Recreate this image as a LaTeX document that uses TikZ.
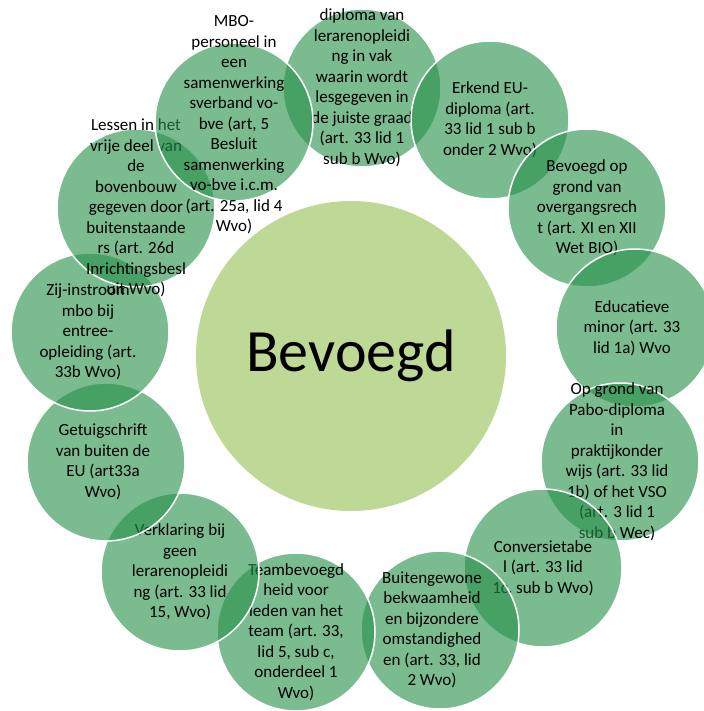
\documentclass[tikz,border=0pt]{standalone}
\usepackage{fontspec}
\setmainfont{Carlito}
\usepackage{tikz}
\definecolor{hubgreen}{RGB}{190,216,150}
\definecolor{spokegreen}{RGB}{40,145,75}
\tikzset{
  hub/.style={circle, fill=hubgreen, minimum size=310pt, inner sep=0pt, font=\fontsize{60}{72}\selectfont},
  spoke/.style={circle, fill=spokegreen, fill opacity=0.62, draw=white, line width=1.5pt, minimum size=158pt, inner sep=0pt},
  spoketext/.style={align=center, text=black, text opacity=1, inner sep=0pt, font=\fontsize{17}{20.5}\selectfont}
}
\begin{document}
\begin{tikzpicture}[x=1pt,y=-1pt]
\useasboundingbox (0,0) rectangle (703,711);
\node[hub] (hub) at (351,356) {Bevoegd};
\node[spoke] (c2) at (362,88) {};
\node[spoketext] (t2) at (c2) {diploma van\\lerarenopleidi\\ng in vak\\waarin wordt\\lesgegeven in\\de juiste graad\\(art. 33 lid 1\\sub b Wvo)};
\node[spoke] (c3) at (490,120) {};
\node[spoketext] (t3) at (c3) {Erkend EU-\\diploma (art.\\33 lid 1 sub b\\onder 2 Wvo)};
\node[spoke] (c4) at (587,208) {};
\node[spoketext] (t4) at (c4) {Bevoegd op\\grond van\\overgangsrech\\t (art. XI en XII\\Wet BIO)};
\node[spoke] (c5) at (635,328) {};
\node[spoketext] (t5) at ([xshift=-3pt]c5) {Educatieve\\minor (art. 33\\lid 1a) Wvo};
\node[spoke] (c6) at (620,462) {};
\node[spoketext] (t6) at ([xshift=-3pt]c6) {Op grond van\\Pabo-diploma\\in\\praktijkonder\\wijs (art. 33 lid\\1b) of het VSO\\(art. 3 lid 1\\sub b Wec)};
\node[spoke] (c7) at (543,568) {};
\node[spoketext] (t7) at (c7) {Conversietabe\\l (art. 33 lid\\1c, sub b Wvo)};
\node[spoke] (c8) at (440,630) {};
\node[spoketext] (t8) at ([xshift=-8pt]c8) {Buitengewone\\bekwaamheid\\en bijzondere\\omstandighed\\en (art. 33, lid\\2 Wvo)};
\node[spoke] (c9) at (296,632) {};
\node[spoketext] (t9) at (c9) {Teambevoegd\\heid voor\\leden van het\\team (art. 33,\\lid 5, sub c,\\onderdeel 1\\Wvo)};
\node[spoke] (c10) at (180,572) {};
\node[spoketext] (t10) at (c10) {Verklaring bij\\geen\\lerarenopleidi\\ng (art. 33 lid\\15, Wvo)};
\node[spoke] (c11) at (106,462) {};
\node[spoketext] (t11) at ([xshift=-3pt]c11) {Getuigschrift\\van buiten de\\EU (art33a\\Wvo)};
\node[spoke] (c12) at (90,332) {};
\node[spoketext] (t12) at ([xshift=-2pt]c12) {Zij-instroom\\mbo bij\\entree-\\opleiding (art.\\33b Wvo)};
\node[spoke] (c13) at (136,208) {};
\node[spoketext] (t13) at (c13) {Lessen in het\\vrije deel van\\de\\bovenbouw\\gegeven door\\buitenstaande\\rs (art. 26d\\Inrichtingsbesl\\uit Wvo)};
\node[spoke] (c1) at (234,122) {};
\node[spoketext] (t1) at ([yshift=-3pt]c1) {MBO-\\personeel in\\een\\samenwerking\\sverband vo-\\bve (art, 5\\Besluit\\samenwerking\\vo-bve i.c.m.\\(art. 25a, lid 4\\Wvo)};
\end{tikzpicture}
\end{document}
